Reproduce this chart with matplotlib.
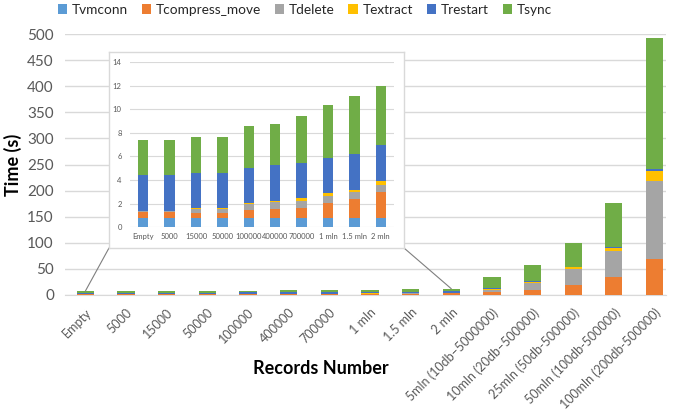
import matplotlib
matplotlib.use('Agg')
import matplotlib.pyplot as plt
from matplotlib.patches import ConnectionPatch
import numpy as np

plt.rcParams['font.family'] = ['Lato', 'DejaVu Sans']

categories = ['Empty', '5000', '15000', '50000', '100000', '400000', '700000',
              '1 mln', '1.5 mln', '2 mln',
              '5mln (10db–5000000)', '10mln (20db–500000)', '25mln (50db-500000)',
              '50mln (100db-500000)', '100mln (200db-500000)']

tvmconn = [0.78, 0.78, 0.78, 0.78, 0.76, 0.76, 0.76, 0.76, 0.76, 0.76, 0.8, 0.8, 0.8, 0.8, 0.8]
tcompress = [0.55, 0.55, 0.46, 0.46, 0.68, 0.76, 0.91, 1.30, 1.61, 2.23, 4, 8, 19, 34, 68]
tdelete = [0.05, 0.05, 0.30, 0.30, 0.54, 0.65, 0.56, 0.59, 0.62, 0.57, 5, 15, 30, 50, 150]
textract = [0.02, 0.02, 0.07, 0.07, 0.10, 0.09, 0.25, 0.23, 0.17, 0.39, 1, 0.8, 3, 5, 18]
trestart = [3.05, 3.05, 2.99, 2.99, 2.97, 3.02, 2.97, 2.96, 3.05, 3.02, 2, 1.5, 1.5, 2, 5]
tsync = [2.95, 2.95, 3.02, 3.02, 3.53, 3.47, 3.98, 4.52, 4.94, 5.00, 21, 32, 46, 85, 250]

series = [('Tvmconn', tvmconn, '#5B9BD5'),
          ('Tcompress_move', tcompress, '#ED7D31'),
          ('Tdelete', tdelete, '#A5A5A5'),
          ('Textract', textract, '#FFC000'),
          ('Trestart', trestart, '#4472C4'),
          ('Tsync', tsync, '#70AD47')]

W, H = 682, 412
fig = plt.figure(figsize=(W / 100, H / 100), dpi=100)

def fig_rect(x0, y0, x1, y1):
    # pixel box (top-left origin) -> figure fraction rect
    return [x0 / W, 1 - y1 / H, (x1 - x0) / W, (y1 - y0) / H]

# main chart
ax = fig.add_axes(fig_rect(65, 34, 666, 295))
x = np.arange(len(categories))
bottom = np.zeros(len(categories))
handles = []
for name, vals, col in series:
    b = ax.bar(x, vals, 0.42, bottom=bottom, color=col, label=name, zorder=3)
    handles.append(b)
    bottom += np.array(vals)

ax.set_ylim(0, 500)
ax.set_xlim(-0.5, 14.28)
ax.set_yticks(np.arange(0, 501, 50))
ax.grid(axis='y', color='#d9d9d9', linewidth=1, zorder=0)
for s in ['top', 'right', 'left']:
    ax.spines[s].set_visible(False)
ax.spines['bottom'].set_color('#d9d9d9')
ax.tick_params(axis='both', length=0, colors='#595959', labelsize=11)
ax.tick_params(axis='y', pad=8)
ax.set_xticks(x)
ax.set_xticklabels(categories, rotation=45, ha='right', rotation_mode='anchor', fontsize=9)
ax.tick_params(axis='x', pad=8, labelsize=9)
ax.set_ylabel('Time (s)', fontsize=13, fontweight='bold', color='black')
ax.yaxis.set_label_coords(-0.0715, 0.5)
ax.set_xlabel('Records Number', fontsize=13, fontweight='bold', color='black')
ax.xaxis.set_label_coords(0.425, -0.25)

fig.legend(handles, [s[0] for s in series], loc='upper center', bbox_to_anchor=(0.447, 1.02),
           ncol=6, frameon=False, fontsize=9.8, handlelength=0.7, handleheight=0.7,
           handletextpad=0.35, columnspacing=1.0, labelcolor='#262626')

# inset frame
frame = fig.add_axes(fig_rect(109, 52, 404, 248))
frame.set_xticks([])
frame.set_yticks([])
frame.set_facecolor('white')
for s in frame.spines.values():
    s.set_color('#d9d9d9')
    s.set_linewidth(1)
frame.set_zorder(5)

# inset chart
ins = fig.add_axes(fig_rect(130, 62, 394, 227.3))
ins.set_zorder(6)
ins.patch.set_alpha(0)
n = 10
xi = np.arange(n)
bottom = np.zeros(n)
for name, vals, col in series:
    ins.bar(xi, vals[:n], 0.4, bottom=bottom, color=col, zorder=3)
    bottom += np.array(vals[:n])
ins.set_ylim(0, 14)
ins.set_xlim(-0.5, 9.5)
ins.set_yticks(np.arange(0, 15, 2))
ins.set_xticks(xi)
ins.set_xticklabels(categories[:n], fontsize=5.5)
ins.tick_params(axis='both', length=0, colors='#595959', labelsize=5.5)
ins.tick_params(axis='y', pad=6)
ins.tick_params(axis='x', pad=4)
ins.grid(axis='y', color='#d9d9d9', linewidth=0.8, zorder=0)
for s in ins.spines.values():
    s.set_visible(False)

# connector lines
for corner, xi_ in [((0, 0), 0), ((1, 0), 9)]:
    top = sum(v[1][xi_] for v in series)
    con = ConnectionPatch(xyA=corner, coordsA=frame.transAxes,
                          xyB=(xi_, top), coordsB=ax.transData,
                          color='#7f7f7f', linewidth=0.8)
    con.set_zorder(4)
    fig.add_artist(con)

fig.savefig('out.png', dpi=100)
